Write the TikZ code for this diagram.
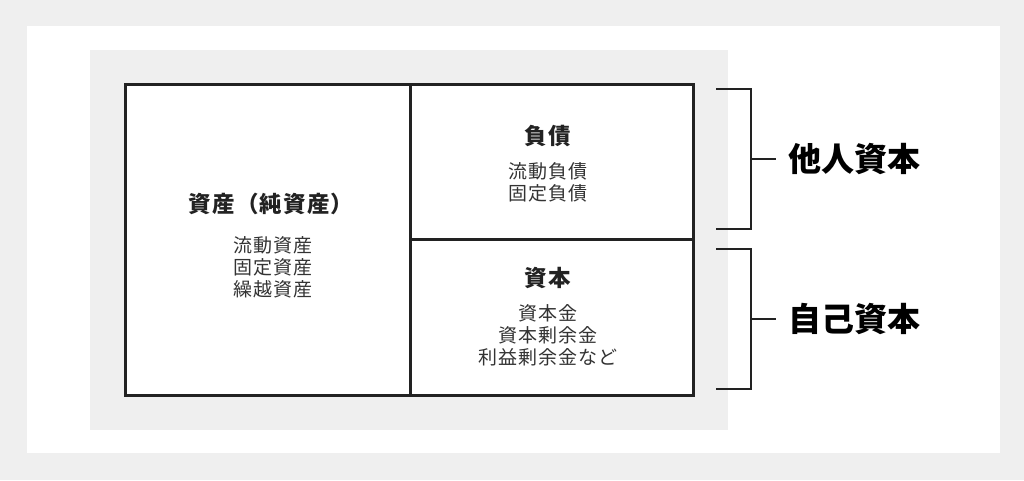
\documentclass[tikz,border=0pt]{standalone}
\usepackage{fontspec}
\usepackage{xcolor}
\newfontfamily\jpfont{Noto Sans CJK JP}
\newfontfamily\jpspaced[LetterSpace=5]{Noto Sans CJK JP}
\definecolor{bggray}{HTML}{EFEFEF}
\definecolor{linecol}{HTML}{222222}
\definecolor{subcol}{HTML}{333333}
\tikzset{
  heading/.style={font=\jpspaced\bfseries\fontsize{22.5}{25}\selectfont, text=linecol, inner sep=0pt},
  items/.style={font=\jpspaced\fontsize{19}{22}\selectfont, text=subcol, align=center, inner sep=0pt},
  bracket/.style={draw=linecol, line width=2.5pt},
  sidelabel/.style={font=\jpfont\bfseries\fontsize{33}{36}\selectfont, text=black, inner xsep=12pt, inner ysep=0pt},
}

\begin{document}
\begin{tikzpicture}[x=1pt, y=-1pt]
  % background and panels
  \fill[bggray] (0,0) rectangle (1024,480);
  \fill[white] (27,26) rectangle (1000,453);
  \fill[bggray] (90,50) rectangle (728,430);

  % balance sheet box
  \draw[linecol, line width=3pt, fill=white] (125,84) rectangle (693,395);
  \draw[linecol, line width=3pt] (410,84) -- (410,395);
  \draw[linecol, line width=3pt] (410,239) -- (693,239);

  % left side
  \node[heading] (assets) at (271,204) {資産（純資産）};
  \node[items] (assetitems) at (273,267) {流動資産\\固定資産\\繰越資産};

  % right top
  \node[heading] (debt) at (548,136) {負債};
  \node[items] (debtitems) at (548,182) {流動負債\\固定負債};

  % right bottom
  \node[heading] (capital) at (548,278) {資本};
  \node[items] (capitalitems) at (548,335) {資本金\\資本剰余金\\利益剰余金など};

  % brackets
  \coordinate (topA) at (716,89);
  \coordinate (topB) at (716,229);
  \coordinate (topTick) at (751,159);
  \coordinate (botA) at (716,249);
  \coordinate (botB) at (716,389);
  \coordinate (botTick) at (751,319);
  \node[sidelabel, anchor=west] (others) at (776,159) {他人資本};
  \node[sidelabel, anchor=west] (own) at (776,319) {自己資本};
  \draw[bracket] (topA) -| (topTick) |- (topB);
  \draw[bracket] (topTick) -- (others.west);
  \draw[bracket] (botA) -| (botTick) |- (botB);
  \draw[bracket] (botTick) -- (own.west);
\end{tikzpicture}
\end{document}
